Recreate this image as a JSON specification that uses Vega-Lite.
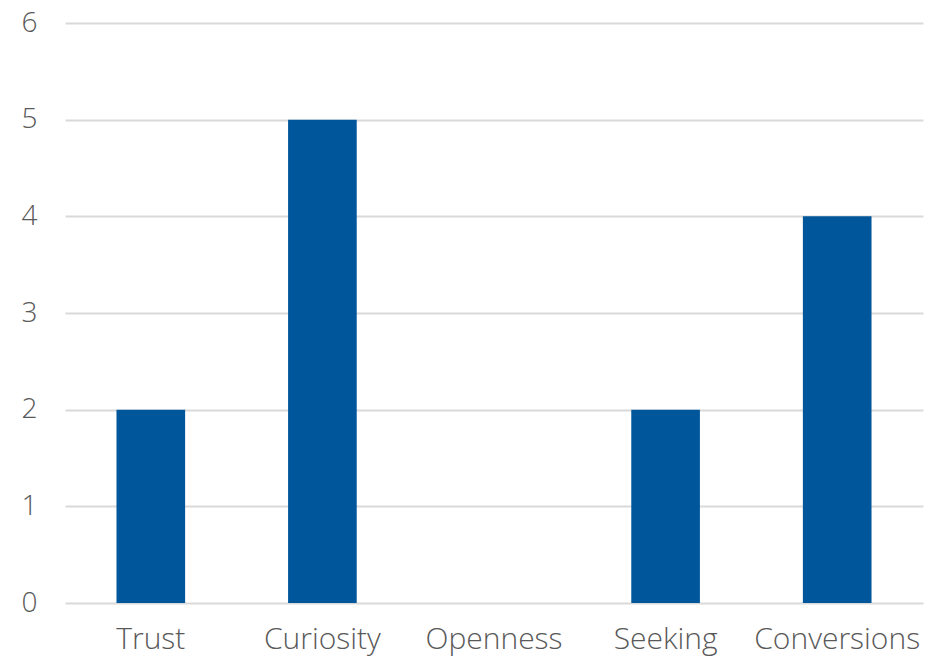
{
  "$schema": "https://vega.github.io/schema/vega-lite/v6.json",
  "width": 858,
  "height": 580,
  "autosize": {"type": "none"},
  "padding": {"left": 65, "top": 23, "right": 16, "bottom": 57},
  "background": "white",
  "config": {"view": {"stroke": null}},
  "data": {"values": [
    {"category": "Trust", "value": 2},
    {"category": "Curiosity", "value": 5},
    {"category": "Openness", "value": 0},
    {"category": "Seeking", "value": 2},
    {"category": "Conversions", "value": 4}
  ]},
  "mark": {"type": "bar", "color": "#00569A"},
  "encoding": {
    "x": {
      "field": "category", "type": "nominal", "sort": null,
      "scale": {"paddingInner": 0.6, "paddingOuter": 0.3},
      "axis": {"title": null, "labelAngle": 0, "labelFont": "Open Sans", "labelFontWeight": 300, "labelFontSize": 30, "labelColor": "#595959", "ticks": false, "domain": false, "labelPadding": 21, "grid": false}
    },
    "y": {
      "field": "value", "type": "quantitative",
      "scale": {"domain": [0, 6]},
      "axis": {"title": null, "values": [0,1,2,3,4,5,6], "labelFont": "Open Sans", "labelFontWeight": 300, "labelFontSize": 28, "labelColor": "#595959", "ticks": false, "domain": false, "labelPadding": 28, "gridColor": "#d9d9d9", "gridWidth": 2}
    }
  }
}
